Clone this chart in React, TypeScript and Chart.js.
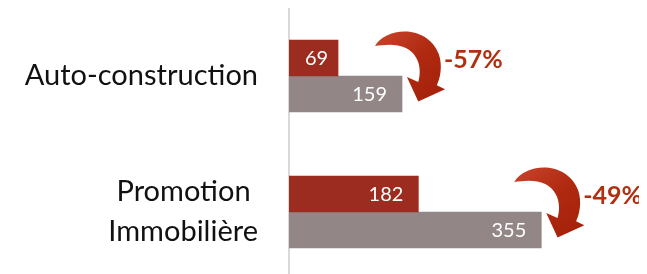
import React, { useEffect, useRef } from "react";
import { Chart, registerables } from "chart.js";

Chart.register(...registerables);

const categories: (string | string[])[] = ["Auto-construction", ["Promotion ", "Immobilière"]];
const currentValues = [69, 182];
const previousValues = [159, 355];
const changeLabels = ["-57%", "-49%"];

const RED = "#9C2B20";
const GREY = "#928686";
const PCT = "#B03010";

function drawArrow(ctx: CanvasRenderingContext2D, x: number, y: number, s: number) {
  ctx.save();
  ctx.translate(x, y);
  ctx.scale(s, s);
  const g = ctx.createLinearGradient(0, -15, 60, 55);
  g.addColorStop(0, "#C8452A");
  g.addColorStop(0.5, "#B02A12");
  g.addColorStop(1, "#A52008");
  ctx.fillStyle = g;
  ctx.beginPath();
  ctx.moveTo(0, 0);
  ctx.bezierCurveTo(10, -18, 50, -22, 62, 8);
  ctx.bezierCurveTo(66, 20, 63, 32, 60, 38);
  ctx.lineTo(68, 42);
  ctx.lineTo(42, 54);
  ctx.lineTo(31, 30);
  ctx.lineTo(42, 35);
  ctx.bezierCurveTo(46, 22, 42, 8, 30, 2);
  ctx.bezierCurveTo(20, -3, 8, -1, 0, 0);
  ctx.closePath();
  ctx.fill();
  ctx.restore();
}

const overlay = {
  id: "overlay",
  afterDatasetsDraw(chart: any) {
    const ctx: CanvasRenderingContext2D = chart.ctx;
    chart.data.datasets.forEach((ds: any, di: number) => {
      const meta = chart.getDatasetMeta(di);
      meta.data.forEach((bar: any, i: number) => {
        ctx.save();
        ctx.fillStyle = "#ffffff";
        ctx.font = "20px Lato";
        ctx.textBaseline = "middle";
        const w = bar.x - bar.base;
        if (w < 60) {
          ctx.textAlign = "center";
          ctx.fillText(String(ds.data[i]), (bar.x + bar.base) / 2 + 3, bar.y + 1);
        } else {
          ctx.textAlign = "right";
          ctx.fillText(String(ds.data[i]), bar.x - 15, bar.y + 1);
        }
        ctx.restore();
      });
    });
    const greyMeta = chart.getDatasetMeta(1);
    greyMeta.data.forEach((bar: any, i: number) => {
      drawArrow(ctx, bar.x - 27, bar.y - 48, 1.03);
      ctx.save();
      ctx.fillStyle = PCT;
      ctx.font = "bold 25px Lato";
      ctx.textAlign = "left";
      ctx.textBaseline = "middle";
      ctx.fillText(changeLabels[i], bar.x + 42, bar.y - 34);
      ctx.restore();
    });
  },
};

export default function App() {
  const ref = useRef<HTMLCanvasElement | null>(null);
  useEffect(() => {
    if (!ref.current) return;
    const chart = new Chart(ref.current, {
      type: "bar",
      data: {
        labels: categories as any,
        datasets: [
          { label: "current", data: currentValues, backgroundColor: RED, barThickness: 36 },
          { label: "previous", data: previousValues, backgroundColor: GREY, barThickness: 36 },
        ],
      },
      options: {
        indexAxis: "y",
        responsive: false,
        animation: false,
        devicePixelRatio: 1,
        layout: { padding: { top: 0, right: 11, bottom: 2, left: 0 } },
        plugins: { legend: { display: false }, tooltip: { enabled: false } },
        scales: {
          x: { display: false, min: 0, max: 477 },
          y: {
            grid: { display: false, drawTicks: false },
            border: { display: true, color: "#D9D9D9", width: 2 },
            ticks: {
              color: "#111111",
              padding: 31,
              font: { family: "Lato", size: 29, lineHeight: 1.38 },
            },
            afterFit(scale: any) {
              scale.width = 281;
              scale.paddingTop = 0;
              scale.paddingBottom = 0;
            },
          },
        },
      },
      plugins: [overlay],
    });
    return () => chart.destroy();
  }, []);
  return (
    <div style={{ width: 631, height: 266, overflow: "hidden" }}>
      <canvas ref={ref} width={631} height={274} />
    </div>
  );
}
